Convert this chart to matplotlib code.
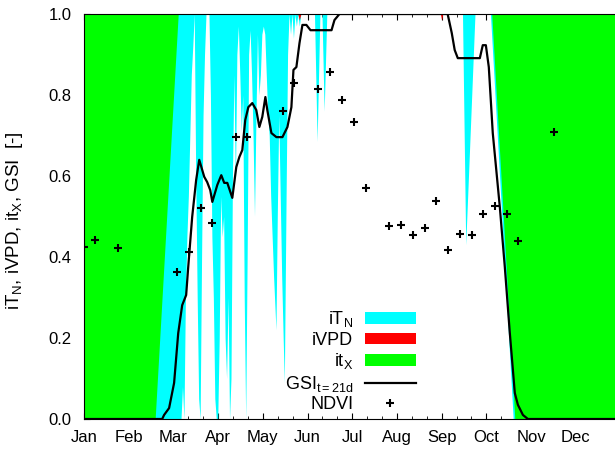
import numpy as np
import matplotlib
matplotlib.use('Agg')
import matplotlib.pyplot as plt
from matplotlib.ticker import MultipleLocator

plt.rcParams['font.family'] = ['Liberation Sans', 'DejaVu Sans']
plt.rcParams['font.size'] = 12
plt.rcParams['mathtext.fontset'] = 'custom'
plt.rcParams['mathtext.rm'] = 'Liberation Sans'
plt.rcParams['mathtext.it'] = 'Liberation Sans:italic'

months = ['Jan', 'Feb', 'Mar', 'Apr', 'May', 'Jun',
          'Jul', 'Aug', 'Sep', 'Oct', 'Nov', 'Dec']

# iT_N (temperature index), day of year / value
itn_day = [0, 66, 67, 68, 69, 70, 71, 72, 73, 74, 75, 76, 77, 78, 79, 80, 81, 82, 83, 85,
           86, 87, 88, 89, 90, 91, 92, 93, 94, 95, 96, 97, 98, 99, 100, 101, 102, 103, 104,
           105, 106, 107, 108, 109, 110, 111, 112, 113, 114, 115, 116, 117, 118, 119, 120,
           121, 122, 123, 124, 125, 126, 127, 128, 129, 130.6, 131.5, 132.5, 133.5, 134.5,
           135.5, 136.3, 137.5, 138.5, 139.5, 140.5, 141.5, 142.5, 143.5, 144.5, 145.5,
           146.5, 147.5, 156.8, 158.6, 160.5, 161.9, 163.4, 165.2, 257.5, 259.7, 266,
           276.5, 292, 365]
itn_val = [0, 0, 0.08, 0, 0.3, 0.45, 0.55, 0.7, 0.85, 0.92, 1.0, 0.6, 0.3, 0.05, 0.0, 0.4,
           0.75, 0.9, 1.0, 1.0, 0.8, 0.45, 0.3, 0.05, 0.0, 0.0, 0.2, 0.55, 0.45, 0.5, 0.2,
           0.1, 0.3, 0.0, 0.1, 0.6, 0.85, 0.58, 0.9, 0.97, 0.85, 0.71, 0.8, 0.3, 0.0, 0.4,
           0.9, 0.96, 0.85, 0.7, 0.5, 0.75, 0.95, 0.8, 0.85, 0.95, 0.97, 0.95, 0.85, 0.75,
           0.7, 0.55, 0.45, 0.35, 0.22, 0.5, 0.75, 0.55, 0.35, 0.2, 0.09, 0.55, 0.9, 1.0,
           0.95, 1.0, 0.94, 1.0, 0.97, 1.0, 0.97, 1.0, 1.0, 0.685, 1.0, 1.0, 0.76, 1.0,
           1.0, 0.43, 1.0, 1.0, 0.0, 0.0]

# iVPD
ivpd_day = [0, 145.5, 146.5, 147.5, 242.5, 243.3, 244, 365]
ivpd_val = [1, 1, 0.985, 1, 1, 0.985, 1, 1]

# it_X
itx_day = [0, 48.4, 64.1, 277.4, 293.1, 365]
itx_val = [0, 0, 1, 1, 0, 0]

# GSI (21 day running mean)
gsi_day = [0, 53.2, 54.5, 57.9, 61.3, 64.1, 66.8, 69.5, 70.9, 73.6, 76.3, 78.4, 81.8,
           83.8, 85.9, 87.3, 90.7, 93.4, 95.4, 97.5, 100.9, 103.6, 105.7, 107.7, 109.7,
           111.8, 114.5, 117.2, 119.3, 121.3, 123.4, 124.7, 127.5, 130.9, 135.0, 138.4,
           141.1, 142.5, 144.5, 146.6, 148.6, 151.3, 154.1, 168.4, 170.4, 173.8, 247.4,
           250.2, 252.2, 254.3, 269.3, 271.3, 273.4, 275.4, 278.1, 282.9, 286.3, 289.7,
           293.1, 295.2, 298.6, 302.0, 365]
gsi_val = [0, 0, 0.01, 0.027, 0.089, 0.212, 0.281, 0.306, 0.375, 0.499, 0.590, 0.640,
           0.598, 0.585, 0.565, 0.536, 0.578, 0.602, 0.583, 0.583, 0.546, 0.622, 0.647,
           0.664, 0.738, 0.770, 0.780, 0.763, 0.721, 0.746, 0.795, 0.763, 0.706, 0.696,
           0.696, 0.721, 0.770, 0.862, 0.869, 0.928, 0.973, 0.973, 0.960, 0.960, 0.985,
           1.0, 1.0, 0.953, 0.911, 0.891, 0.891, 0.923, 0.923, 0.869, 0.706, 0.523,
           0.375, 0.212, 0.064, 0.035, 0.010, 0, 0]

# NDVI (8-day composites)
ndvi_day = [0, 7.5, 23.2, 63.4, 71.6, 79.8, 87.3, 103.6, 111.1, 135.7, 143.1, 159.5,
            167.7, 175.2, 183.4, 191.6, 207.2, 215.4, 223.6, 231.8, 239.3, 247.4, 255.6,
            263.8, 271.3, 279.5, 287.7, 295.2, 319.7]
ndvi_val = [0.425, 0.442, 0.422, 0.363, 0.412, 0.521, 0.484, 0.696, 0.696, 0.760, 0.830,
            0.815, 0.857, 0.788, 0.733, 0.570, 0.477, 0.479, 0.454, 0.472, 0.538, 0.417,
            0.457, 0.454, 0.506, 0.526, 0.506, 0.440, 0.709]

fig = plt.figure(figsize=(6.15, 4.51), dpi=100)
ax = fig.add_axes([84 / 615, 32 / 451, 536.5 / 615, 405 / 451])

ax.fill_between(itn_day, itn_val, 1, color='#00ffff', lw=0, label='i$\\mathrm{T}_\\mathrm{N}$')
ax.fill_between(ivpd_day, ivpd_val, 1, color='#ff0000', lw=0, label='iVPD')
ax.fill_between(itx_day, itx_val, 1, color='#00ff00', lw=0, label='i$\\mathrm{t}_\\mathrm{X}$')
ax.plot(gsi_day, gsi_val, color='black', lw=1.6, zorder=3,
        label='GSI$_{\\mathrm{t=21d}}$')
ax.plot(ndvi_day, ndvi_val, ls='none', marker='+', ms=5.5, mew=1.5, color='black',
        zorder=4, label='NDVI')

ax.set_xlim(0, 365)
ax.set_ylim(0, 1)
ax.set_xticks([k * 365 / 12 for k in range(12)])
ax.set_xticklabels(months)
ax.xaxis.set_minor_locator(MultipleLocator(365 / 36))
ax.set_yticks([0, 0.2, 0.4, 0.6, 0.8, 1.0])
ax.set_yticklabels(['0.0', '0.2', '0.4', '0.6', '0.8', '1.0'])
ax.tick_params(axis='x', which='both', direction='in', top=True, pad=8)
ax.tick_params(axis='x', which='major', length=4.5)
ax.tick_params(axis='x', which='minor', length=2.5)
ax.tick_params(axis='y', direction='in', length=4.5, pad=9)
ax.set_axisbelow(True)
ax.spines['right'].set_visible(False)

ax.set_ylabel('i$\\mathrm{T}_\\mathrm{N}$, iVPD, i$\\mathrm{t}_\\mathrm{X}$, GSI  [-]',
              fontsize=13.5)
ax.yaxis.set_label_coords(-0.11, 0.49)

ax.legend(loc='lower right', bbox_to_anchor=(0.645, -0.022), frameon=False,
          fontsize=13, markerfirst=False, handlelength=2.8, handleheight=0.6,
          handletextpad=0.65, labelspacing=0.14, borderpad=0.3, numpoints=1)

fig.savefig('out.png', dpi=100)
